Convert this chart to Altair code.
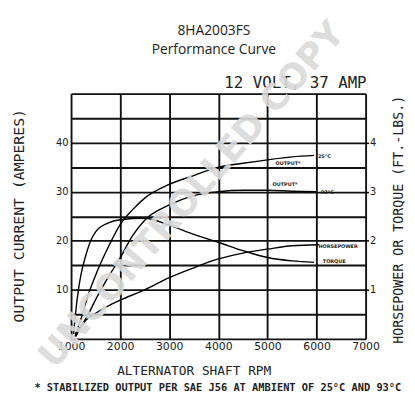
import altair as alt
import pandas as pd

# ---- data ----
rpm_out25 = [1080, 1200, 1350, 1500, 1700, 2000, 2250, 2500, 3000, 3500, 4000, 4500, 5000, 5500, 5950]
amp_out25 = [0.5, 4, 9, 13, 17.5, 23.3, 26.3, 28.7, 31.5, 33.3, 35.0, 35.8, 36.5, 37.1, 37.4]

rpm_out93 = [1100, 1200, 1350, 1500, 1750, 2000, 2250, 2500, 3000, 3500, 4000, 4500, 5000, 5500, 6000]
amp_out93 = [0.5, 2.5, 5, 8, 12.5, 16.5, 21, 24.2, 27.3, 29.2, 30.0, 30.3, 30.3, 30.1, 30.0]

rpm_torque = [1050, 1100, 1150, 1200, 1300, 1400, 1500, 1750, 2000, 2500, 3000, 3500, 4000, 4500, 5000, 5500, 5950]
torque_ftlb = [0.1, 0.6, 1.0, 1.3, 1.7, 2.0, 2.18, 2.36, 2.43, 2.46, 2.32, 2.13, 1.97, 1.80, 1.66, 1.59, 1.56]

rpm_hp = [1080, 1200, 1300, 1500, 1750, 2000, 2500, 3000, 3500, 4000, 4500, 5000, 5500, 6050]
horsepower = [0.1, 0.25, 0.38, 0.52, 0.67, 0.79, 1.0, 1.25, 1.45, 1.63, 1.75, 1.83, 1.9, 1.92]

x_ticks = list(range(1000, 7001, 500))
y_ticks = list(range(0, 51, 5))
right_ticks = [1, 2, 3, 4]

curve_labels = ["OUTPUT*", "25°C", "OUTPUT*", "93°C", "HORSEPOWER", "TORQUE"]
curve_label_rpm = [5420, 6160, 5360, 6220, 6440, 6360]
curve_label_amp = [35.9, 37.3, 31.6, 30.0, 19.0, 15.8]

title_text = "8HA2003FS"
subtitle_text = "Performance Curve"
rating_text = "12 VOLT, 37 AMP"
left_title = "OUTPUT CURRENT (AMPERES)"
right_title = "HORSEPOWER OR TORQUE (FT.-LBS.)"
x_title = "ALTERNATOR SHAFT RPM"
footnote = "* STABILIZED OUTPUT PER SAE J56 AT AMBIENT OF 25°C AND 93°C"
watermark = "UNCONTROLLED COPY"

# ---- tables ----
out_df = pd.DataFrame({
    "rpm": rpm_out25 + rpm_out93,
    "amps": amp_out25 + amp_out93,
    "series": ["25°C"] * len(rpm_out25) + ["93°C"] * len(rpm_out93),
})
pw_df = pd.DataFrame({
    "rpm": rpm_torque + rpm_hp,
    "val": torque_ftlb + horsepower,
    "series": ["torque"] * len(rpm_torque) + ["hp"] * len(rpm_hp),
})
lab_df = pd.DataFrame({"rpm": curve_label_rpm, "amps": curve_label_amp, "t": curve_labels})

W, H = 299, 249
MONO = "DejaVu Sans Mono"
SANS = "DejaVu Sans"

x_enc = alt.X("rpm:Q", scale=alt.Scale(domain=[1000, 7000], nice=False, zero=False),
              axis=alt.Axis(values=x_ticks, format="d",
                            labelExpr="datum.value % 1000 == 0 ? datum.label : ''",
                            grid=True, gridColor="#111", gridWidth=1.9, ticks=False,
                            domain=False, title=None, labelFont=SANS, labelFontSize=11,
                            labelColor="#1a1a1a", labelPadding=2, labelOverlap=False,
                            labelFlush=False, labelBound=False))

outputs = alt.Chart(out_df).mark_line(color="black", strokeWidth=1.4, interpolate="monotone").encode(
    x=x_enc,
    y=alt.Y("amps:Q", scale=alt.Scale(domain=[0, 50], nice=False),
            axis=alt.Axis(values=y_ticks, orient="left",
                          labelExpr="datum.value % 10 == 0 && datum.value > 0 && datum.value < 50 ? datum.label : ''",
                          grid=True, gridColor="#111", gridWidth=1.9, ticks=False, domain=False,
                          title=None, labelFont=SANS, labelFontSize=10, labelColor="#1a1a1a",
                          labelPadding=3, labelOverlap=False)),
    detail="series:N",
)

power = alt.Chart(pw_df).mark_line(color="black", strokeWidth=1.4, interpolate="monotone").encode(
    x=alt.X("rpm:Q"),
    y=alt.Y("val:Q", scale=alt.Scale(domain=[0, 5], nice=False),
            axis=alt.Axis(values=right_ticks, orient="right", grid=False, ticks=True,
                          tickSize=3, tickColor="black", tickWidth=1.5, domain=False, title=None,
                          labelFont=SANS, labelFontSize=10, labelColor="#1a1a1a", labelPadding=1)),
    detail="series:N",
)

labels = alt.Chart(lab_df).mark_text(font=SANS, fontSize=5, fontWeight="bold", color="#222").encode(
    x=alt.X("rpm:Q"),
    y=alt.Y("amps:Q", scale=alt.Scale(domain=[0, 50], nice=False), axis=None),
    text="t:N",
)


def txt(s, x, y, **kw):
    return alt.Chart(pd.DataFrame({"t": [s]})).mark_text(**kw).encode(
        x=alt.value(x), y=alt.value(y), text="t:N")


texts = [
    txt(title_text, 145, -63, font="Open Sans", fontSize=14, color="#222"),
    txt(subtitle_text, 145, -44, font="Open Sans", fontSize=14, color="#222"),
    txt(rating_text, 300, -11, font=MONO, fontSize=16, color="#222", align="right"),
    txt(left_title, -53, 124, font=MONO, fontSize=15, color="#222", angle=270),
    txt(right_title, 333, 128, font=MONO, fontSize=13.5, color="#222", angle=270),
    txt(x_title, 125, 282, font=MONO, fontSize=13, color="#222"),
    txt(footnote, 149, 299, font=MONO, fontSize=10.5, fontWeight="bold", color="#222"),
]

wm = txt(watermark, 123, 103, font=SANS, fontSize=36, fontWeight="bold",
         color="#dadada", opacity=0.9, angle=311)

chart = alt.layer(outputs, power, labels, *texts, wm).resolve_scale(y="independent").properties(
    width=W, height=H,
    autosize=alt.AutoSizeParams(type="none"),
    padding={"left": 64, "top": 84, "right": 42, "bottom": 52},
).configure_view(stroke="black", strokeWidth=2.2).configure(background="white")

chart.save("out.html", embed_options={"renderer": "svg", "actions": False})
